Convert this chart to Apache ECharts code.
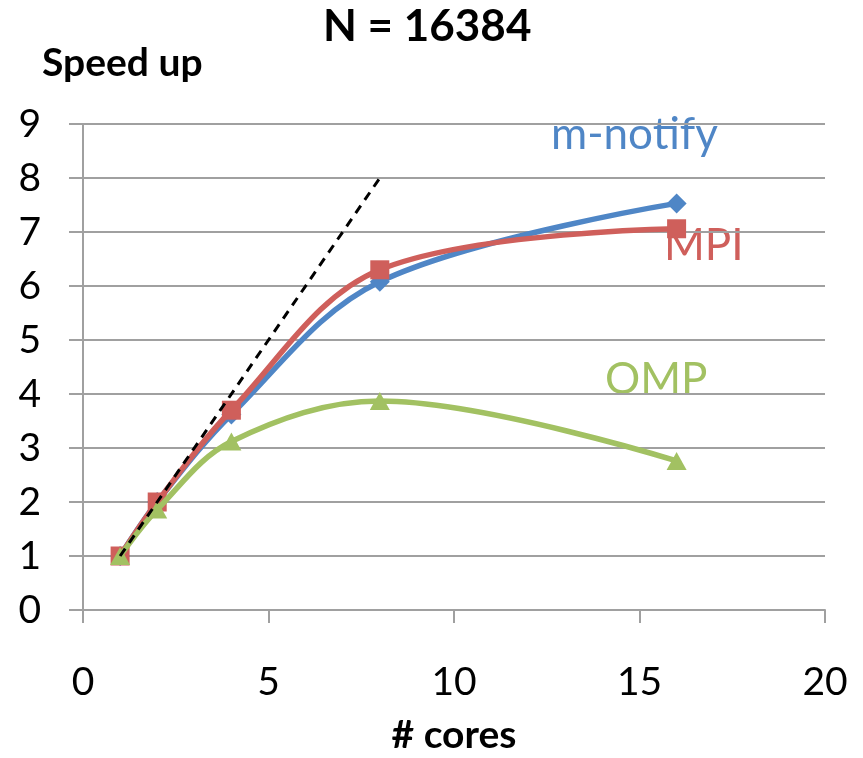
<!DOCTYPE html>
<html>
<head>
<meta charset="utf-8">
<script src="https://cdn.jsdelivr.net/npm/echarts@6/dist/echarts.min.js"></script>
<style>html,body{margin:0;padding:0;background:#fff}#c{width:863px;height:758px}</style>
</head>
<body>
<div id="c"></div>
<script>
const cores = [1, 2, 4, 8, 16];
const mNotify = [1, 2.0, 3.62, 6.08, 7.53];
const mpi = [1, 2.0, 3.7, 6.3, 7.06];
const omp = [1, 1.86, 3.12, 3.87, 2.76];
const idealX = [1, 8];
const idealY = [1, 8];
const xTicks = [0, 5, 10, 15, 20];
const yTicks = [0, 1, 2, 3, 4, 5, 6, 7, 8, 9];
const seriesNames = ['m-notify', 'MPI', 'OMP'];

const FONT = 'Lato';
const pairs = (xs, ys) => xs.map((x, i) => [x, ys[i]]);
const chart = echarts.init(document.getElementById('c'));
const colors = ['#4F86C6', '#CF5F5B', '#A2C162'];
const symbols = ['diamond', 'rect', 'triangle'];
const symSizes = [[20, 20], [19, 19], [20, 18]];
const data = [mNotify, mpi, omp];

chart.setOption({
  animation: false,
  title: {
    text: 'N = 16384', left: 318, top: 0,
    textStyle: { fontFamily: FONT, fontWeight: 'bold', fontSize: 44, color: '#000' }
  },
  grid: { left: 83, right: 38, top: 124, bottom: 148, containLabel: false, outerBoundsMode: 'none' },
  xAxis: {
    type: 'value', min: xTicks[0], max: xTicks[xTicks.length - 1], interval: 5,
    name: '# cores', nameLocation: 'middle', nameGap: 106,
    nameTextStyle: { fontFamily: FONT, fontWeight: 'bold', fontSize: 39, color: '#000' },
    axisLine: { show: true, lineStyle: { color: '#A0A0A0', width: 2 } },
    axisTick: { show: true, length: 13, lineStyle: { color: '#A0A0A0', width: 2 } },
    axisLabel: { fontFamily: FONT, fontSize: 39, color: '#000', margin: 53 },
    splitLine: { show: false }
  },
  yAxis: {
    type: 'value', min: yTicks[0], max: yTicks[yTicks.length - 1], interval: 1,
    axisLine: { show: true, lineStyle: { color: '#A0A0A0', width: 2 } },
    axisTick: { show: true, length: 14, lineStyle: { color: '#A0A0A0', width: 2 } },
    axisLabel: { fontFamily: FONT, fontSize: 39, color: '#000', margin: 42 },
    splitLine: { show: true, lineStyle: { color: '#A0A0A0', width: 2 } }
  },
  series: [
    ...data.map((d, i) => ({
      name: seriesNames[i], type: 'line', smooth: 0.35,
      data: pairs(cores, d),
      symbol: symbols[i], symbolSize: symSizes[i],
      lineStyle: { color: colors[i], width: 5.5 },
      itemStyle: { color: colors[i] },
      z: 2 + i
    })),
    {
      name: 'ideal', type: 'line', data: pairs(idealX, idealY), symbol: 'none',
      lineStyle: { color: '#000', width: 3, type: [9, 7] }, z: 10
    }
  ],
  graphic: [
    { type: 'text', left: 42, top: 44, style: { text: 'Speed up', fontFamily: FONT, fontWeight: 'bold', fontSize: 39, fill: '#000' } },
    { type: 'text', left: 551, top: 113, style: { text: seriesNames[0], fontFamily: FONT, fontSize: 44, fill: colors[0] } },
    { type: 'text', left: 664, top: 224, style: { text: seriesNames[1], fontFamily: FONT, fontSize: 44, fill: colors[1] } },
    { type: 'text', left: 605, top: 358, style: { text: seriesNames[2], fontFamily: FONT, fontSize: 44, fill: colors[2] } }
  ]
});
</script>
</body>
</html>
